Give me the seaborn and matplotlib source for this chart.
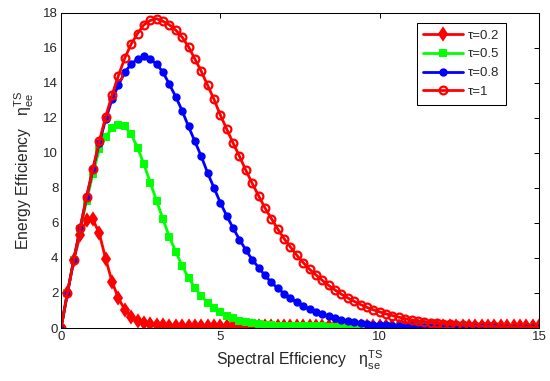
import numpy as np
import pandas as pd
import matplotlib
matplotlib.use("Agg")
import matplotlib.pyplot as plt
import seaborn as sns

# spectral efficiency samples (step 0.2)
se = [0.0, 0.2, 0.4, 0.6, 0.8, 1.0, 1.2, 1.4, 1.6, 1.8,
      2.0, 2.2, 2.4, 2.6, 2.8, 3.0, 3.2, 3.4, 3.6, 3.8,
      4.0, 4.2, 4.4, 4.6, 4.8, 5.0, 5.2, 5.4, 5.6, 5.8,
      6.0, 6.2, 6.4, 6.6, 6.8, 7.0, 7.2, 7.4, 7.6, 7.8,
      8.0, 8.2, 8.4, 8.6, 8.8, 9.0, 9.2, 9.4, 9.6, 9.8,
      10.0, 10.2, 10.4, 10.6, 10.8, 11.0, 11.2, 11.4, 11.6, 11.8,
      12.0, 12.2, 12.4, 12.6, 12.8, 13.0, 13.2, 13.4, 13.6, 13.8,
      14.0, 14.2, 14.4, 14.6, 14.8, 15.0]

ee_tau02 = [0, 2.0, 3.9, 5.3, 6.15, 6.2, 5.4, 3.95, 2.65, 1.7,
            1.05, 0.65, 0.42, 0.3, 0.22, 0.18, 0.15, 0.13, 0.12, 0.11,
            0.10, 0.10, 0.10, 0.10, 0.10, 0.10, 0.10, 0.10, 0.10, 0.10,
            0.10, 0.10, 0.10, 0.10, 0.10, 0.10, 0.10, 0.10, 0.10, 0.10,
            0.10, 0.10, 0.10, 0.10, 0.10, 0.10, 0.10, 0.10, 0.10, 0.10,
            0.10, 0.10, 0.10, 0.10, 0.10, 0.10, 0.10, 0.10, 0.10, 0.10,
            0.10, 0.10, 0.10, 0.10, 0.10, 0.10, 0.10, 0.10, 0.10, 0.10,
            0.10, 0.10, 0.10, 0.10, 0.10, 0.10]

ee_tau05 = [0, 2.0, 3.9, 5.65, 7.25, 8.8, 10.2, 10.9, 11.4, 11.6,
            11.5, 11.05, 10.3, 9.35, 8.3, 7.25, 6.2, 5.2, 4.35, 3.55,
            2.87, 2.3, 1.83, 1.45, 1.13, 0.9, 0.7, 0.55, 0.43, 0.34,
            0.27, 0.22, 0.18, 0.15, 0.13, 0.12, 0.11, 0.10, 0.10, 0.09,
            0.09, 0.09, 0.08, 0.08, 0.08, 0.08, 0.08, 0.08, 0.08, 0.08,
            0.08, 0.08, 0.08, 0.08, 0.08, 0.08, 0.08, 0.08, 0.08, 0.08,
            0.08, 0.08, 0.08, 0.08, 0.08, 0.08, 0.08, 0.08, 0.08, 0.08,
            0.08, 0.08, 0.08, 0.08, 0.08, 0.08]

ee_tau08 = [0, 2.0, 3.9, 5.7, 7.45, 9.05, 10.55, 11.9, 13.05, 13.85,
            14.6, 15.05, 15.35, 15.5, 15.35, 15.05, 14.6, 13.9, 13.2, 12.4,
            11.5, 10.65, 9.8, 8.85, 8.0, 7.15, 6.4, 5.7, 5.05, 4.45,
            3.9, 3.45, 3.0, 2.6, 2.27, 1.97, 1.7, 1.46, 1.25, 1.07,
            0.92, 0.78, 0.66, 0.56, 0.47, 0.40, 0.34, 0.29, 0.24, 0.20,
            0.17, 0.15, 0.13, 0.11, 0.10, 0.09, 0.08, 0.07, 0.07, 0.06,
            0.06, 0.06, 0.05, 0.05, 0.05, 0.05, 0.05, 0.05, 0.05, 0.05,
            0.05, 0.05, 0.05, 0.05, 0.05, 0.05]

ee_tau1 = [0, 2.0, 3.9, 5.7, 7.5, 9.1, 10.65, 12.05, 13.3, 14.4,
           15.4, 16.2, 16.8, 17.3, 17.55, 17.65, 17.5, 17.3, 17.0, 16.6,
           16.05, 15.35, 14.65, 13.85, 13.05, 12.15, 11.35, 10.55, 9.8, 9.0,
           8.25, 7.55, 6.85, 6.25, 5.65, 5.1, 4.62, 4.15, 3.73, 3.35,
           3.03, 2.72, 2.43, 2.17, 1.93, 1.72, 1.52, 1.34, 1.18, 1.04,
           0.92, 0.81, 0.71, 0.62, 0.54, 0.47, 0.41, 0.36, 0.31, 0.27,
           0.24, 0.21, 0.18, 0.16, 0.14, 0.12, 0.11, 0.10, 0.09, 0.08,
           0.07, 0.07, 0.06, 0.06, 0.05, 0.05]

labels = ["\u03c4=0.2", "\u03c4=0.5", "\u03c4=0.8", "\u03c4=1"]

sns.set_style("white")
plt.rcParams["font.family"] = ["Liberation Sans", "DejaVu Sans"]
plt.rcParams["mathtext.fontset"] = "custom"
plt.rcParams["mathtext.rm"] = "Liberation Sans"
plt.rcParams["mathtext.it"] = "Liberation Sans:italic"
plt.rcParams["xtick.direction"] = "in"
plt.rcParams["ytick.direction"] = "in"

fig = plt.figure(figsize=(5.5, 3.81), dpi=100)
ax = fig.add_axes([0.111, 0.139, 0.869, 0.828])

# (values, label, marker, colour, face, size, edge width)
series = [
    (ee_tau02, labels[0], "d", (1, 0, 0), (1, 0, 0), 6.5, 1.3),
    (ee_tau05, labels[1], "s", (0, 1, 0), (0, 1, 0), 4.6, 1.4),
    (ee_tau08, labels[2], "o", (0, 0, 1), (0, 0, 1), 5.0, 1.0),
    (ee_tau1, labels[3], "o", (1, 0, 0), "none", 5.6, 1.6),
]

for vals, lab, mk, col, face, ms, mew in series:
    df = pd.DataFrame({"se": se, "ee": vals})
    sns.lineplot(data=df, x="se", y="ee", ax=ax, color=col, label=lab,
                 marker=mk, markersize=ms, markerfacecolor=face,
                 markeredgecolor=col, markeredgewidth=mew,
                 linewidth=2.0, sort=False, estimator=None)

ax.set_xlim(0, 15)
ax.set_ylim(0, 18)
ax.set_xticks([0, 5, 10, 15])
ax.set_yticks(np.arange(0, 19, 2))
ax.tick_params(axis="both", which="both", top=True, right=True,
               length=3.8, width=0.7, labelsize=9.5, color="black", pad=2)
for sp in ax.spines.values():
    sp.set_color("black")
    sp.set_linewidth(0.75)

ax.set_xlabel(r"Spectral Efficiency   $\mathrm{\eta}_{\mathrm{se}}^{\mathrm{TS}}$",
              fontsize=11.3, labelpad=4)
ax.set_ylabel(r"Energy Efficiency   $\mathrm{\eta}_{\mathrm{ee}}^{\mathrm{TS}}$",
              fontsize=11.3, labelpad=5)

leg = ax.legend(loc="upper right", bbox_to_anchor=(0.931, 0.968),
                borderaxespad=0, fontsize=9.5, handlelength=3.0,
                handletextpad=0.4, labelspacing=0.5, fancybox=False,
                framealpha=1, edgecolor="black", borderpad=0.5)
leg.get_frame().set_linewidth(0.75)

fig.savefig("out.png", dpi=100)
